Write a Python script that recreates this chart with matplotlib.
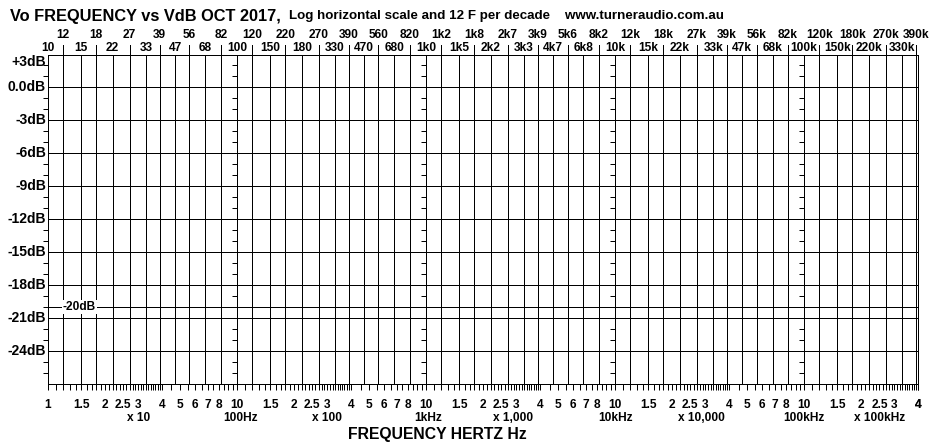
import matplotlib
matplotlib.use("Agg")
import matplotlib.pyplot as plt
from matplotlib.transforms import blended_transform_factory

plt.rcParams['font.family'] = ['Liberation Sans', 'DejaVu Sans']
plt.rcParams['font.weight'] = 'bold'
plt.rcParams['lines.antialiased'] = False
plt.rcParams['patch.antialiased'] = False

# E12 grid: lines per decade, the top labels in two rows
upper_freqs = [12, 18, 27, 39, 56, 82,
               120, 180, 270, 390, 560, 820,
               1200, 1800, 2700, 3900, 5600, 8200,
               12000, 18000, 27000, 39000, 56000, 82000,
               120000, 180000, 270000, 390000]
upper_labels = ["12", "18", "27", "39", "56", "82",
                "120", "220", "270", "390", "560", "820",
                "1k2", "1k8", "2k7", "3k9", "5k6", "8k2",
                "12k", "18k", "27k", "39k", "56k", "82k",
                "120k", "180k", "270k", "390k"]
lower_freqs = [10, 15, 22, 33, 47, 68,
               100, 150, 220, 330, 470, 680,
               1000, 1500, 2200, 3300, 4700, 6800,
               10000, 15000, 22000, 33000, 47000, 68000,
               100000, 150000, 220000, 330000]
lower_labels = ["10", "15", "22", "33", "47", "68",
                "100", "150", "180", "330", "470", "680",
                "1k0", "1k5", "2k2", "3k3", "4k7", "6k8",
                "10k", "15k", "22k", "33k", "47k", "68k",
                "100k", "150k", "220k", "330k"]
decade_freqs = [10, 100, 1000, 10000, 100000]

# dB scale
db_major = [3, 0, -3, -6, -9, -12, -15, -18, -21, -24]
db_labels = ["+3dB", "0.0dB", "-3dB", "-6dB", "-9dB", "-12dB",
             "-15dB", "-18dB", "-21dB", "-24dB"]
db_minor = [2, 1, -1, -2, -4, -5, -7, -8, -10, -11, -13, -14,
            -16, -17, -19, -20, -22, -23, -25, -26]
db_ref = -20

# bottom scale
mantissa_labels = [1, 1.5, 2, 2.5, 3, 4, 5, 6, 7, 8]
mantissa_text = ["1", "1.5", "2", "2.5", "3", "4", "5", "6", "7", "8"]
mantissa_ticks = [1.0, 1.1, 1.2, 1.3, 1.4, 1.5, 1.6, 1.7, 1.8, 1.9,
                  2.0, 2.1, 2.2, 2.3, 2.4, 2.5, 2.6, 2.7, 2.8, 2.9,
                  3.0, 3.1, 3.2, 3.3, 3.4, 3.5, 3.6, 3.7, 3.8, 3.9,
                  4.0, 4.5, 5.0, 5.5, 6.0, 6.5, 7.0, 7.5, 8.0, 8.5, 9.0, 9.5]
mult_freqs = [30, 104, 300, 1030, 2900, 10000, 28500, 100000, 250000]
mult_labels = ["x 10", "100Hz", "x 100", "1kHz", "x 1,000", "10kHz",
               "x 10,000", "100kHz", "x 100kHz"]
f_min, f_max = 10, 400000

W, H = 943, 446
fig = plt.figure(figsize=(W / 100, H / 100), dpi=100)
ax_top, ax_bot, ax_left, ax_right = 54.5, 384, 48, 918
ax = fig.add_axes([ax_left / W, 1 - ax_bot / H, (ax_right - ax_left) / W,
                   (ax_bot - ax_top) / H])
ax.set_xscale('log')
ax.set_xlim(f_min, f_max)
ax.set_ylim(-27, 3)
lw = 0.72
for s in ax.spines.values():
    s.set_linewidth(lw)

# vertical grid
for f in upper_freqs + lower_freqs:
    if f_min < f < f_max:
        ax.axvline(f, color='black', lw=lw)
# upper-row lines run up between the label rows
for f in upper_freqs:
    ax.plot([f, f], [3, 3.9], color='black', lw=lw, clip_on=False)

# horizontal grid
for d in db_major[1:] + [db_ref]:
    ax.axhline(d, color='black', lw=lw)

# 1 dB ticks on decade lines
for f in decade_freqs:
    ax.plot([f] * len(db_minor), db_minor, ls='none', marker=0,
            markersize=3.6, markeredgewidth=lw, color='black', clip_on=False)

# bottom ticks
ticks = []
for dec in decade_freqs:
    for m in mantissa_ticks:
        if dec * m <= f_max:
            ticks.append(dec * m)
ticks.append(f_max)
ax.set_xticks(ticks, minor=True)
ax.set_xticks([])
ax.tick_params(axis='x', which='minor', direction='out', length=4.3,
               width=lw, labelbottom=False)
ax.set_yticks([])

trans = blended_transform_factory(ax.transData, fig.transFigure)

# bottom numbers
row1 = 1 - 405 / H
for dec in decade_freqs:
    for m, t in zip(mantissa_labels, mantissa_text):
        f = dec * m
        if f > f_max:
            continue
        if dec > 10 and m == 1:
            t = "10"
        ax.text(f, row1, t, transform=trans, ha='center', va='center',
                fontsize=8.6)
ax.text(f_max, row1, "4", transform=trans, ha='center', va='center',
        fontsize=8.6)
row2 = 1 - 418 / H
for f, t in zip(mult_freqs, mult_labels):
    ax.text(f, row2, t, transform=trans, ha='center', va='center',
            fontsize=8.6)
ax.text(1150, 1 - 434 / H, "FREQUENCY HERTZ Hz", transform=trans,
        ha='center', va='center', fontsize=11.3)

# top labels
for f, t in zip(upper_freqs, upper_labels):
    ax.text(f, 1 - 35 / H, t, transform=trans, ha='center', va='center',
            fontsize=8.6)
for f, t in zip(lower_freqs, lower_labels):
    ax.text(f, 1 - 48 / H, t, transform=trans, ha='center', va='center',
            fontsize=8.6, bbox=dict(facecolor='white', edgecolor='none', pad=0.3))

# dB labels
for d, t in zip(db_major, db_labels):
    ax.text(-2 / (ax_right - ax_left), d, t,
            transform=blended_transform_factory(ax.transAxes, ax.transData),
            ha='right', va='top' if d == 3 else 'center', fontsize=10)
ax.text(12, db_ref, "-20dB", ha='left', va='center', fontsize=8.6,
        bbox=dict(facecolor='white', edgecolor='none', pad=0.5))

# title
fig.text(10 / W, 1 - 16 / H, "Vo FREQUENCY vs VdB OCT 2017,", ha='left',
         va='center', fontsize=11.8)
fig.text(289 / W, 1 - 16 / H,
         "Log horizontal scale and 12 F per decade    www.turneraudio.com.au",
         ha='left', va='center', fontsize=9.6)

fig.savefig("out.png", dpi=100, facecolor='white')
